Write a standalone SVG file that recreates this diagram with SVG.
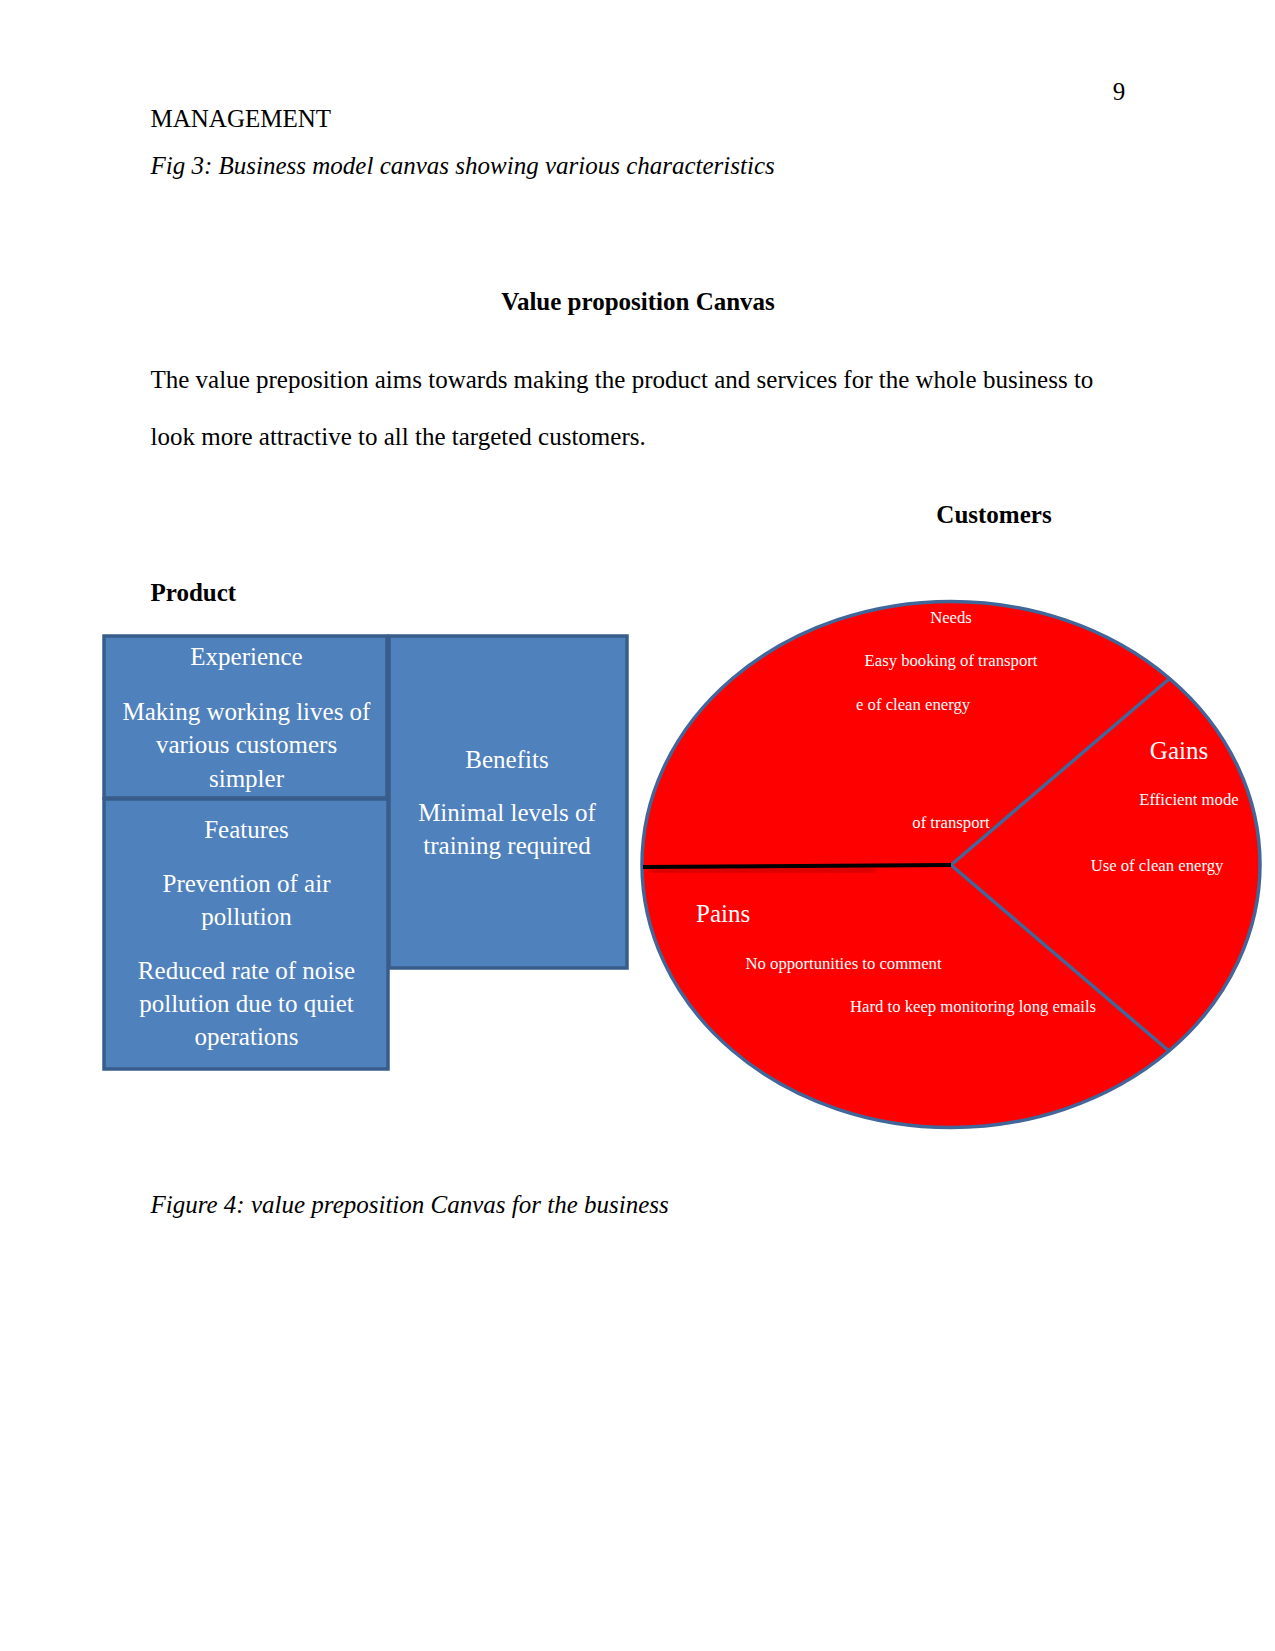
<svg xmlns="http://www.w3.org/2000/svg" width="1275" height="1651" viewBox="0 0 1275 1651">
<style>
text{font-family:"Liberation Serif","Times New Roman",serif;}
.body{font-size:25px;fill:#000;}
.bold{font-size:25px;font-weight:bold;fill:#000;}
.ital{font-size:25px;font-style:italic;fill:#000;}
.box{fill:#4F81BD;stroke:#385D8A;stroke-width:3.5;}
.bt{font-size:25px;fill:#fff;text-anchor:middle;}
.st{font-size:16.7px;fill:#fff;}
.lt{font-size:25px;fill:#fff;}
.div{stroke:#41669A;stroke-width:3.5;fill:none;}
</style>
<defs>
<filter id="soft" x="-10%" y="-200%" width="120%" height="500%"><feGaussianBlur stdDeviation="2.5"/></filter>
</defs>
<rect width="1275" height="1651" fill="#fff"/>
<text class="body" x="1119" y="100" text-anchor="middle">9</text>
<text class="body" x="150.5" y="127">MANAGEMENT</text>
<text class="ital" x="150.5" y="174">Fig 3: Business model canvas showing various characteristics</text>
<text class="bold" x="638" y="309.5" text-anchor="middle">Value proposition Canvas</text>
<text class="body" x="150.5" y="387.5">The value preposition aims towards making the product and services for the whole business to</text>
<text class="body" x="150.5" y="445">look more attractive to all the targeted customers.</text>
<text class="bold" x="994" y="523" text-anchor="middle">Customers</text>
<text class="bold" x="150.5" y="601">Product</text>

<g id="product-experience">
<rect class="box" x="104" y="636" width="283" height="162"/>
<text class="bt" x="246.5" y="665">Experience</text>
<text class="bt" x="246.5" y="720">Making working lives of</text>
<text class="bt" x="246.5" y="753">various customers</text>
<text class="bt" x="246.5" y="786.5">simpler</text>
</g>
<g id="product-features">
<rect class="box" x="104" y="799" width="284" height="270"/>
<text class="bt" x="246.5" y="838">Features</text>
<text class="bt" x="246.5" y="892">Prevention of air</text>
<text class="bt" x="246.5" y="925">pollution</text>
<text class="bt" x="246.5" y="979">Reduced rate of noise</text>
<text class="bt" x="246.5" y="1012">pollution due to quiet</text>
<text class="bt" x="246.5" y="1045">operations</text>
</g>
<g id="product-benefits">
<rect class="box" x="389" y="636" width="238" height="332"/>
<text class="bt" x="507" y="767.5">Benefits</text>
<text class="bt" x="507" y="821">Minimal levels of</text>
<text class="bt" x="507" y="854">training required</text>
</g>

<g id="customer-profile">
<ellipse cx="951" cy="864.5" rx="309" ry="263" fill="#FF0000" stroke="#41669A" stroke-width="3.5"/>
</g>

<g id="connectors">
<line class="div" x1="951" y1="865" x2="1169" y2="679"/>
<line class="div" x1="951" y1="865" x2="1169" y2="1051"/>
<line x1="650" y1="871" x2="875" y2="870" stroke="#900000" stroke-width="5" opacity="0.45" filter="url(#soft)"/>
<line x1="643" y1="867" x2="951" y2="865" stroke="#000" stroke-width="4"/>
</g>

<g id="needs">
<text class="st" x="951" y="623" text-anchor="middle">Needs</text>
<text class="st" x="951" y="666" text-anchor="middle">Easy booking of transport</text>
<text class="st" x="856" y="709.5">e of clean energy</text>
<text class="st" x="951" y="827.5" text-anchor="middle">of transport</text>
</g>
<g id="gains">
<text class="lt" x="1179" y="759" text-anchor="middle">Gains</text>
<text class="st" x="1189" y="805" text-anchor="middle">Efficient mode</text>
<text class="st" x="1157" y="870.5" text-anchor="middle">Use of clean energy</text>
</g>
<g id="pains">
<text class="lt" x="696" y="922">Pains</text>
<text class="st" x="745.5" y="968.5">No opportunities to comment</text>
<text class="st" x="850" y="1011.5">Hard to keep monitoring long emails</text>
</g>

<text class="ital" x="150.5" y="1213">Figure 4: value preposition Canvas for the business</text>
</svg>
